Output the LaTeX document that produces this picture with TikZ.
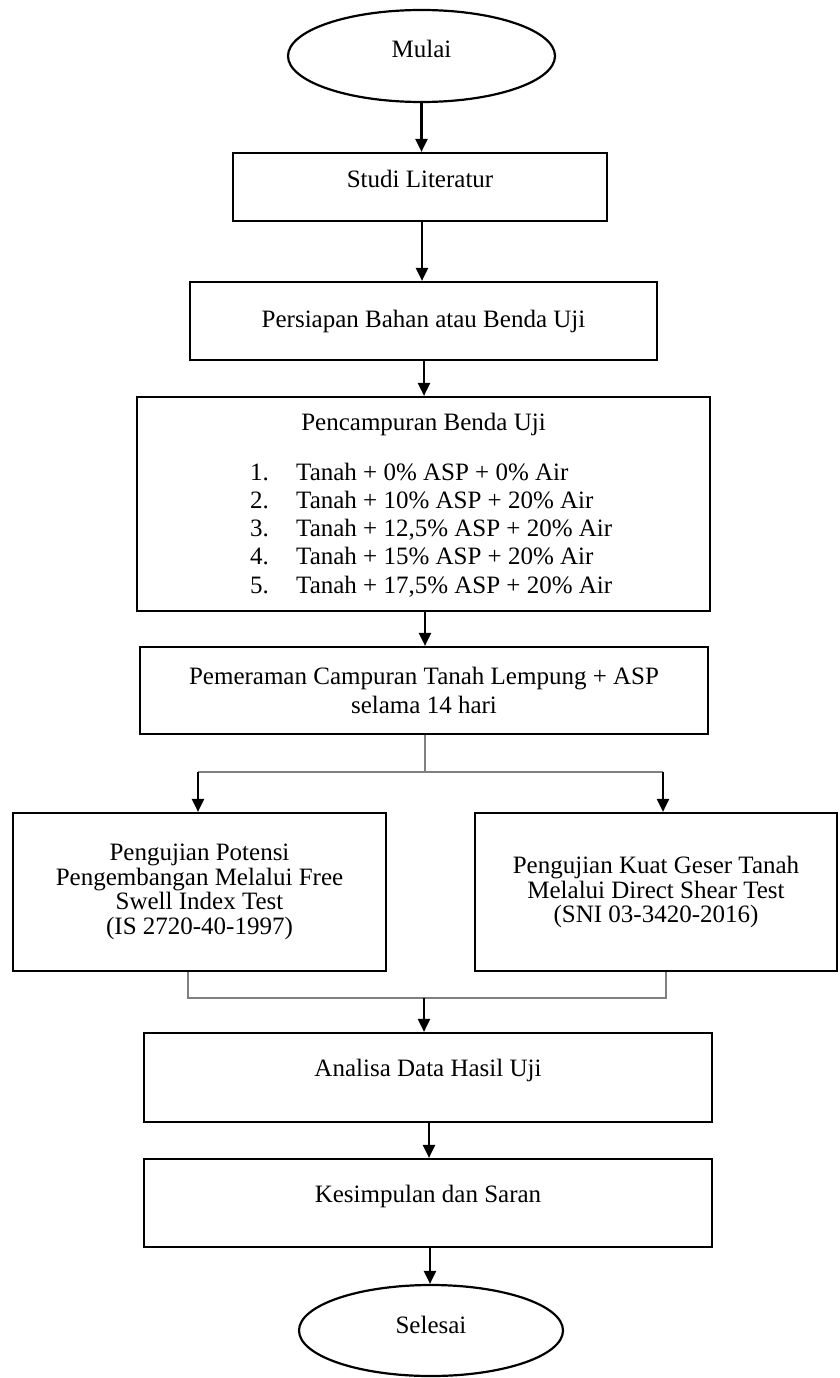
\documentclass[tikz,border=0pt]{standalone}
\usepackage{fontspec}
\setmainfont{Liberation Serif}
\usetikzlibrary{shapes.geometric,arrows.meta}
\begin{document}
\begin{tikzpicture}[x=1bp,y=-1bp,
  every node/.style={font=\fontsize{25bp}{28.3bp}\selectfont, inner sep=0pt},
  box/.style={draw, line width=2.2bp, rectangle, align=center},
  one/.style={text height=17bp, text depth=5bp},
  term/.style={draw, line width=2.2bp, ellipse},
  arr/.style={line width=2.2bp, -{Triangle[length=13bp,width=12bp]}},
  thinline/.style={line width=1.2bp, draw=black!50},
  tight/.style={font=\fontsize{25bp}{24.7bp}\selectfont}
]
\useasboundingbox (0,0) rectangle (839,1378);

% nodes
\node[term, one, minimum width=267bp, minimum height=92bp] (start) at (421.5,56)
  {\raisebox{4bp}[\height][\depth]{Mulai}};
\node[box, one, minimum width=374bp, minimum height=68bp] (studi) at (420,187)
  {\raisebox{5bp}[\height][\depth]{Studi Literatur}};
\node[box, one, minimum width=467bp, minimum height=78bp] (prep) at (423.5,321)
  {Persiapan Bahan atau Benda Uji};
\node[box, minimum width=573bp, minimum height=214bp] (mix) at (423.5,504) {};
\node[anchor=base] (mixtitle) at (423.5,430) {Pencampuran Benda Uji};
\node[anchor=base west] (mixlist) at (250,480) {\begin{tabular}[t]{@{}l@{}}
\makebox[46bp][l]{1.}Tanah + 0\% ASP + 0\% Air\\
\makebox[46bp][l]{2.}Tanah + 10\% ASP + 20\% Air\\
\makebox[46bp][l]{3.}Tanah + 12,5\% ASP + 20\% Air\\
\makebox[46bp][l]{4.}Tanah + 15\% ASP + 20\% Air\\
\makebox[46bp][l]{5.}Tanah + 17,5\% ASP + 20\% Air
\end{tabular}};
\node[box, minimum width=568bp, minimum height=87bp] (cure) at (424,690.5)
  {Pemeraman Campuran Tanah Lempung + ASP\\selama 14 hari};
\node[box, tight, minimum width=373bp, minimum height=158bp] (swell) at (199.5,892)
  {Pengujian Potensi\\Pengembangan Melalui Free\\Swell Index Test\\(IS 2720-40-1997)};
\node[box, tight, minimum width=362bp, minimum height=158bp] (shear) at (656,892)
  {Pengujian Kuat Geser Tanah\\Melalui Direct Shear Test\\(SNI 03-3420-2016)};
\node[box, one, minimum width=568bp, minimum height=89bp] (ana) at (428,1077.5)
  {\raisebox{7bp}[\height][\depth]{Analisa Data Hasil Uji}};
\node[box, one, minimum width=568bp, minimum height=88bp] (kes) at (428,1203)
  {\raisebox{7bp}[\height][\depth]{Kesimpulan dan Saran}};
\node[term, one, minimum width=264bp, minimum height=91bp] (stop) at (431,1330.5)
  {\raisebox{3bp}[\height][\depth]{Selesai}};

% coordinates
\coordinate (split) at (425,772);
\coordinate (bl) at (198,772);
\coordinate (br) at (663,772);
\coordinate (jl) at (188,998);
\coordinate (jr) at (666,998);
\coordinate (jm) at (424,998);

% connectors
\draw[arr] (start.south) -- (start.south |- studi.north);
\draw[arr] ([xshift=2bp]studi.south) -- ([xshift=2bp]studi.south |- prep.north);
\draw[arr] ([xshift=0.5bp]prep.south) -- ([xshift=0.5bp]prep.south |- mix.north);
\draw[arr] ([xshift=1.5bp]mix.south) -- ([xshift=1.5bp]mix.south |- cure.north);
\draw[thinline] ([xshift=1bp]cure.south) -- (split);
\draw[thinline] (bl) -- (br);
\draw[arr] (bl) -- (bl |- swell.north);
\draw[arr] (br) -- (br |- shear.north);
\draw[thinline] (jl |- swell.south) -- (jl) -- (jr) -- (jr |- shear.south);
\draw[arr] (jm) -- (jm |- ana.north);
\draw[arr] ([xshift=1bp]ana.south) -- ([xshift=1bp]ana.south |- kes.north);
\draw[arr] ([xshift=2bp]kes.south) -- ([xshift=2bp]kes.south |- stop.north);
\end{tikzpicture}
\end{document}
